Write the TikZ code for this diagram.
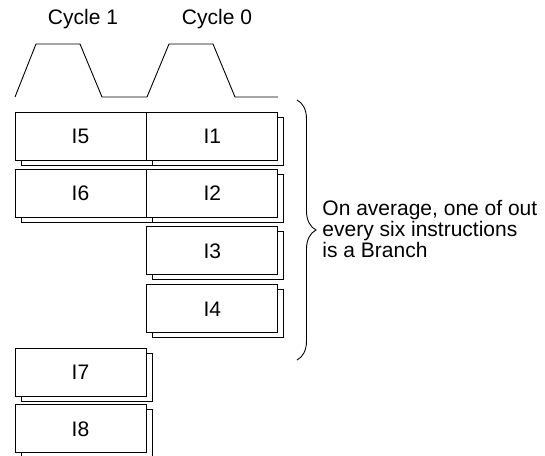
\documentclass[tikz,border=0pt]{standalone}
\usepackage{fontspec}
\setmainfont{Liberation Sans}
\usetikzlibrary{positioning,shadows,decorations.pathreplacing}

\begin{document}
\begin{tikzpicture}[x=1pt, y=-1pt, line width=0.9pt,
  font=\fontsize{21}{21}\selectfont,
  instr/.style={draw, fill=white, minimum width=131pt, minimum height=48pt,
    inner sep=0pt, copy shadow={shadow xshift=6pt, shadow yshift=-5pt}},
  bracebar/.style={decorate, decoration={brace, amplitude=19pt}}]
  \useasboundingbox (0,0) rectangle (545,455);
  % clock
  \draw (15,97) -- (36,44) -- (80,44) -- (102,97) -- (147,97)
    -- (169,44) -- (213,44) -- (235,97) -- (278,97);
  \node[anchor=base] (cyc1) at (83,24) {Cycle 1};
  \node[anchor=base] (cyc0) at (217,24) {Cycle 0};
  % instructions
  \node[instr] (i5) at (80.5,136) {I5};
  \node[instr, right=0pt of i5] (i1) {I1};
  \node[instr] (i6) at (80.5,193) {I6};
  \node[instr, right=0pt of i6] (i2) {I2};
  \node[instr, below=9pt of i2] (i3) {I3};
  \node[instr, below=9pt of i3] (i4) {I4};
  \node[instr] (i7) at (80.5,372) {I7};
  \node[instr, below=8pt of i7] (i8) {I8};
  % branch note
  \coordinate (bt) at (297,100);
  \coordinate (bb) at (297,360);
  \draw[bracebar] (bt) -- (bb);
  \node[anchor=west, align=left, inner sep=0pt] (note) at (322,229)
    {On average, one of out\\every six instructions\\is a Branch};
\end{tikzpicture}
\end{document}
